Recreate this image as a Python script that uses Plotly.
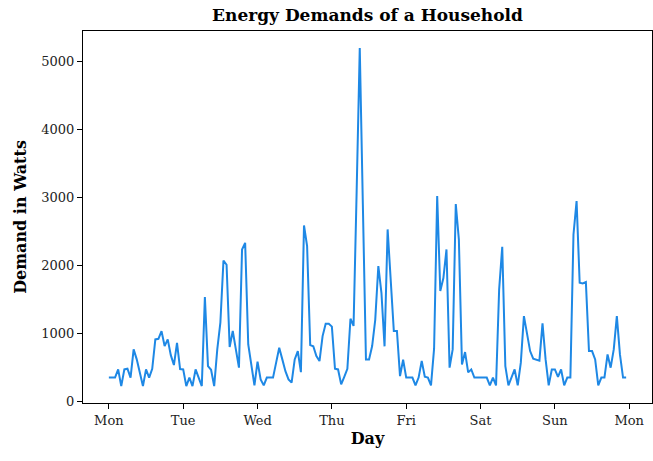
import plotly.graph_objects as go

# Hourly household demand over one week (Watts), hour 0 = Monday 00:00
hours = list(range(168))
demand = [
    350, 350, 350, 470, 225, 470, 480, 350, 765, 618, 440, 225,
    470, 350, 480, 912, 920, 1034, 814, 912, 680, 535, 860, 475,
    470, 225, 350, 225, 470, 350, 225, 1534, 520, 465, 225, 765,
    1157, 2073, 2010, 800, 1035, 765, 496, 2235, 2333, 838, 515, 235,
    584, 324, 235, 350, 350, 350, 570, 790, 618, 445, 324, 275,
    618, 740, 430, 2588, 2285, 828, 810, 667, 594, 960, 1142, 1142,
    1100, 480, 470, 250, 362, 480, 1216, 1110, 3100, 5200, 2900, 618,
    618, 814, 1200, 1990, 1598, 810, 2530, 1745, 1035, 1035, 372, 613,
    350, 350, 350, 235, 350, 594, 362, 350, 235, 775, 3020, 1623,
    1815, 2235, 496, 765, 2902, 2382, 544, 725, 427, 470, 350, 350,
    350, 350, 350, 235, 350, 235, 1647, 2275, 520, 235, 350, 470,
    235, 570, 1255, 1010, 740, 628, 618, 600, 1147, 618, 235, 470,
    470, 362, 470, 235, 350, 350, 2456, 2946, 1745, 1735, 1755, 740,
    740, 618, 235, 350, 350, 691, 496, 765, 1255, 691, 350, 350,
]
day_ticks = [0, 24, 48, 72, 96, 120, 144, 168]
day_labels = ["Mon", "Tue", "Wed", "Thu", "Fri", "Sat", "Sun", "Mon"]
y_ticks = [0, 1000, 2000, 3000, 4000, 5000]

FONT = "DejaVu Serif"

# matplotlib-like 5% padding around the data
x_pad = 0.05 * (hours[-1] - hours[0])
y_pad = 0.05 * (max(demand) - min(demand))

fig = go.Figure(
    go.Scatter(
        x=hours, y=demand, mode="lines",
        line=dict(color="#1E88E5", width=2),
        hoverinfo="x+y",
    )
)

axis_common = dict(
    showgrid=False, zeroline=False,
    showline=True, linecolor="black", linewidth=1.2, mirror=True,
    ticks="outside", ticklen=5, tickwidth=1.2, tickcolor="black",
    tickfont=dict(family=FONT, size=13, color="#222"),
)

fig.update_xaxes(
    **axis_common,
    range=[hours[0] - x_pad, hours[-1] + x_pad],
    tickmode="array", tickvals=day_ticks, ticktext=day_labels,
    title=dict(text="<b>Day</b>", font=dict(family=FONT, size=16, color="black"), standoff=6),
)
fig.update_yaxes(
    **axis_common,
    range=[min(demand) - y_pad, max(demand) + y_pad],
    tickmode="array", tickvals=y_ticks, ticktext=[str(v) for v in y_ticks],
    title=dict(text="<b>Demand in Watts</b>", font=dict(family=FONT, size=16, color="black"), standoff=10),
)

fig.update_layout(
    width=653, height=461,
    margin=dict(l=83, r=1, t=31, b=58),
    paper_bgcolor="white", plot_bgcolor="white",
    showlegend=False,
    title=dict(
        text="<b>Energy Demands of a Household</b>",
        font=dict(family=FONT, size=17, color="black"),
        x=0.5, xref="paper", xanchor="center",
        y=1 - 15 / 461, yref="container", yanchor="middle",
    ),
)

fig.write_html("out.html")
